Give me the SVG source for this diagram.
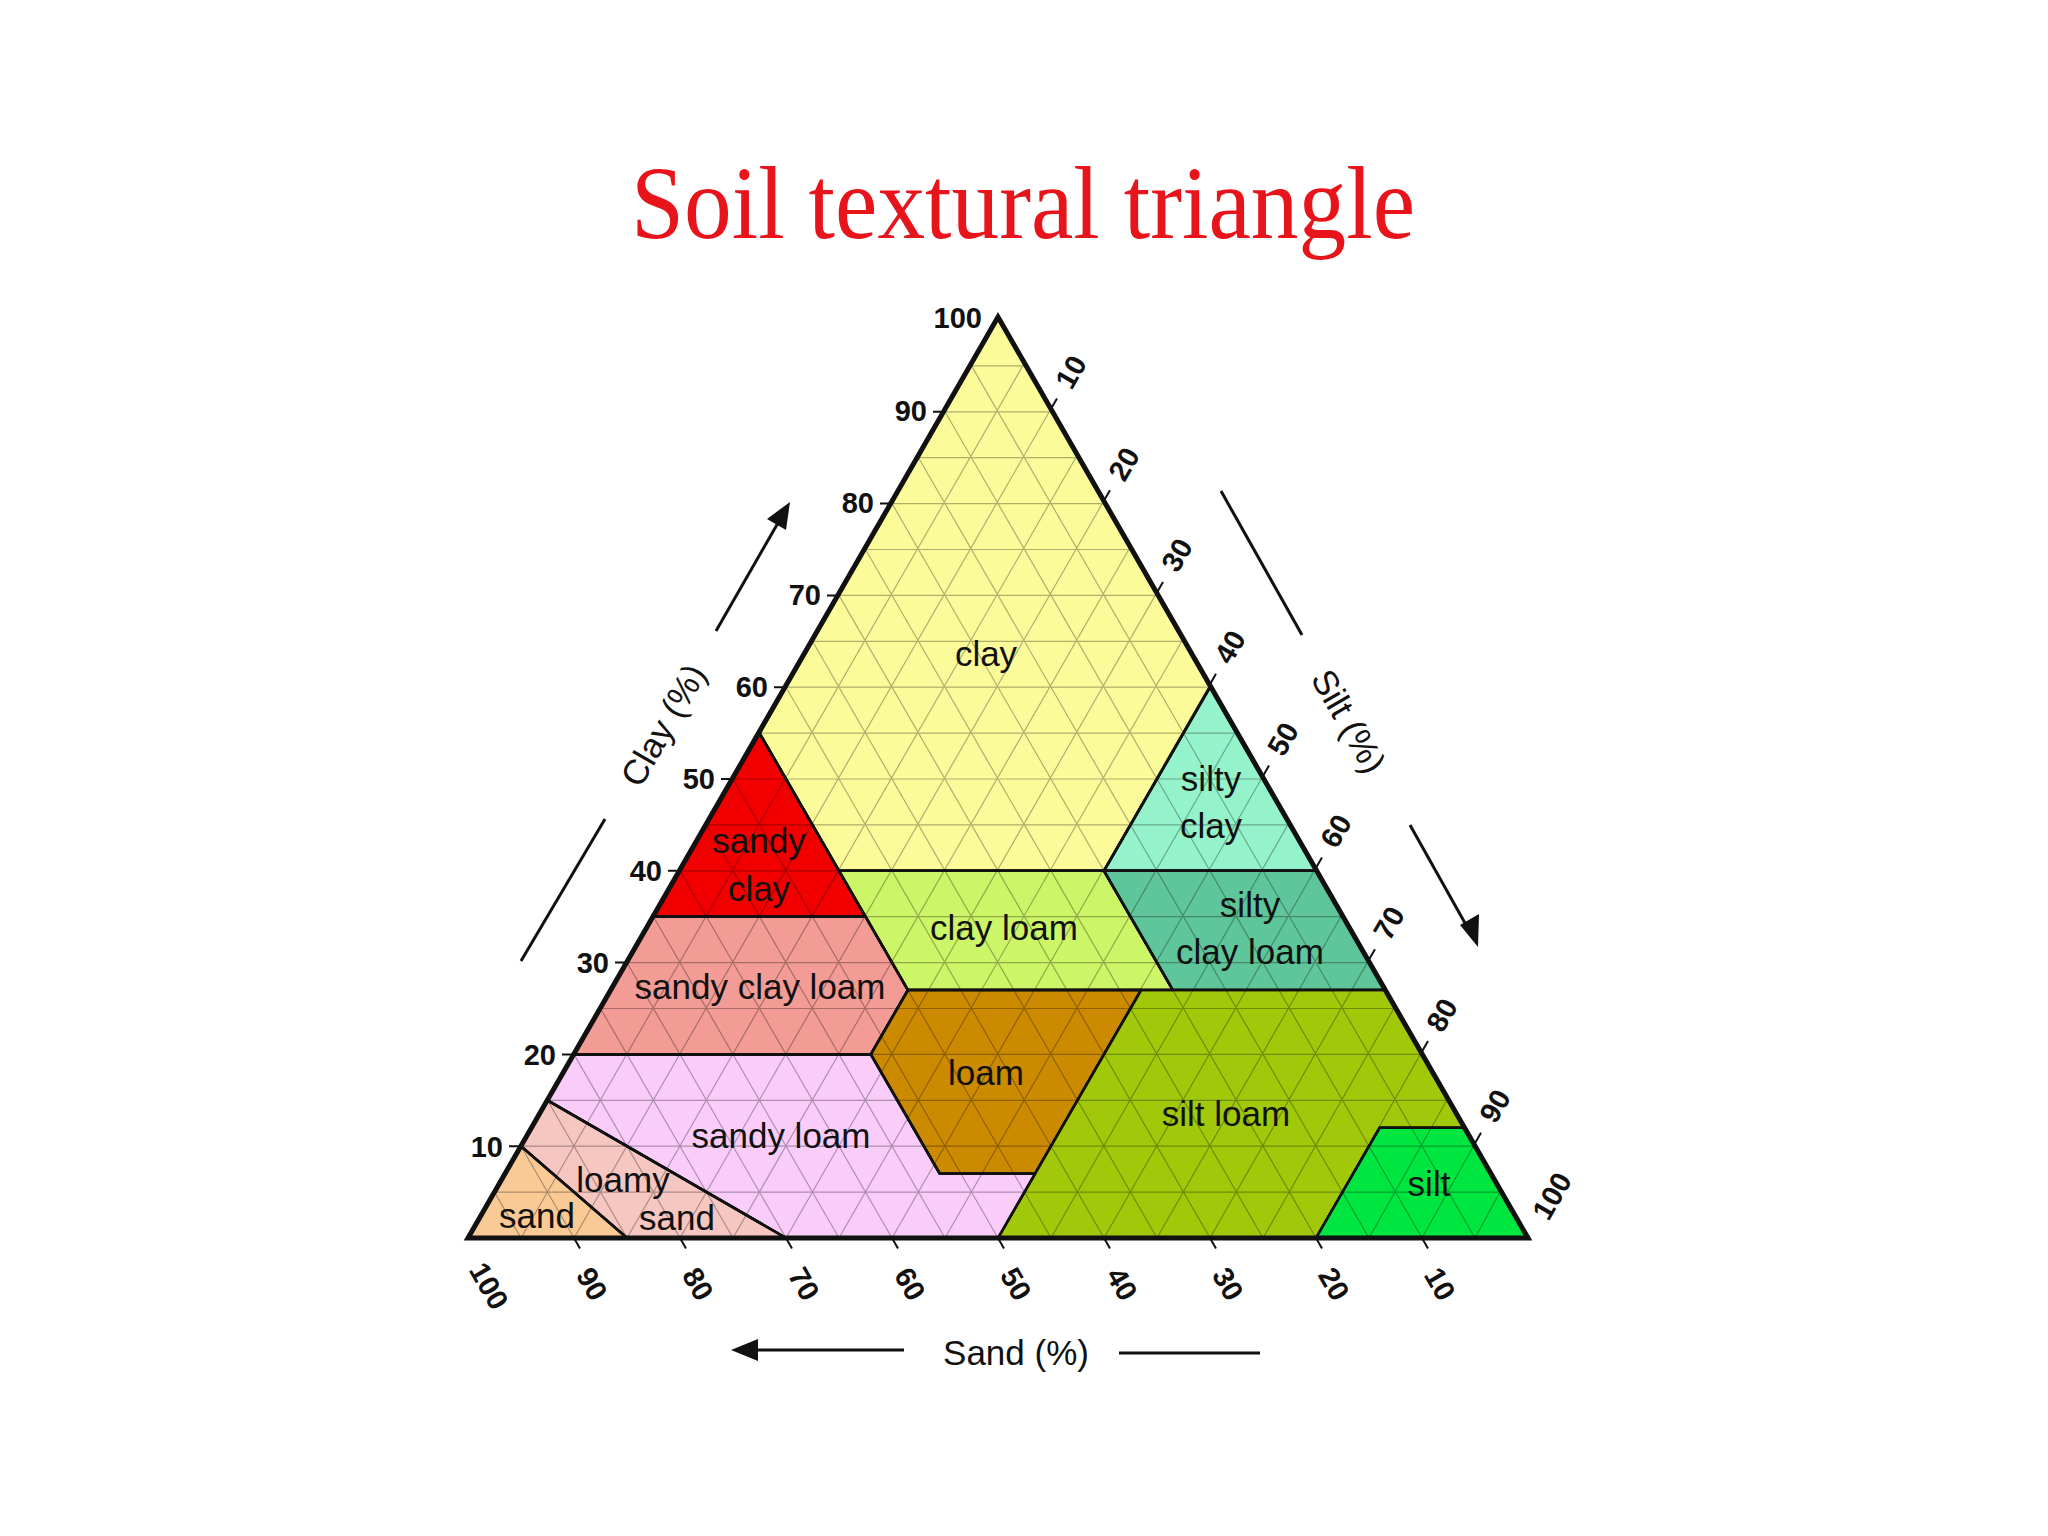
<svg xmlns="http://www.w3.org/2000/svg" width="2048" height="1536" viewBox="0 0 2048 1536">
<style>
.r{stroke:#111;stroke-width:2.5;stroke-linejoin:round}
.lb{font-family:"Liberation Sans",Arial,sans-serif;font-size:35px;fill:#111;text-anchor:middle;dominant-baseline:central}
.tk{font-family:"Liberation Sans",Arial,sans-serif;font-size:29px;font-weight:bold;fill:#111;dominant-baseline:central}
.ax{font-family:"Liberation Sans",Arial,sans-serif;font-size:35px;fill:#111;text-anchor:middle;dominant-baseline:central}
.grid{stroke:#000;stroke-opacity:.3;stroke-width:1.2;fill:none}
.arr{stroke:#111;stroke-width:3;fill:none}
</style>
<defs>
<marker id="ah" viewBox="0 0 10 10" refX="9" refY="5" markerWidth="8" markerHeight="8" markerUnits="userSpaceOnUse" orient="auto" style="overflow:visible"><path d="M0,0 L10,5 L0,10 Z" fill="#111" transform="scale(3.2) translate(-7,-5) translate(0,5)"/></marker>
</defs>
<rect width="2048" height="1536" fill="#fff"/>
<text x="1023" y="238" font-family="'Liberation Serif',serif" font-size="104" fill="#e8141b" text-anchor="middle" textLength="784" lengthAdjust="spacingAndGlyphs">Soil textural triangle</text>

<g id="regions">
<polygon id="clay" class="r" fill="#fbfb9a" points="759.5,733.1 998,317 1210,687.2 1104,870.8 839,870.8"/>
<polygon id="sandy-clay" class="r" fill="#f20000" points="653.5,916.7 759.5,733.1 839,870.8 865.5,916.7"/>
<polygon id="silty-clay" class="r" fill="#94f3cb" points="1210,687.2 1316,870.8 1104,870.8"/>
<polygon id="clay-loam" class="r" fill="#ccf567" points="839,870.8 1104,870.8 1172.9,990.1 907.9,990.1 865.5,916.7"/>
<polygon id="silty-clay-loam" class="r" fill="#5ec69a" points="1104,870.8 1316,870.8 1384.9,990.1 1172.9,990.1"/>
<polygon id="sandy-clay-loam" class="r" fill="#f39b95" points="574,1054.4 653.5,916.7 865.5,916.7 907.9,990.1 870.8,1054.4"/>
<polygon id="loam" class="r" fill="#cc8a00" points="907.9,990.1 1141.1,990.1 1035.1,1173.7 939.7,1173.7 870.8,1054.4"/>
<polygon id="silt-loam" class="r" fill="#a2c80a" points="998,1238 1035.1,1173.7 1141.1,990.1 1384.9,990.1 1464.4,1127.8 1379.6,1127.8 1316,1238"/>
<polygon id="silt" class="r" fill="#00e640" points="1316,1238 1379.6,1127.8 1464.4,1127.8 1528,1238"/>
<polygon id="sandy-loam" class="r" fill="#f9ccf9" points="547.5,1100.3 574,1054.4 870.8,1054.4 939.7,1173.7 1035.1,1173.7 998,1238 786,1238"/>
<polygon id="loamy-sand" class="r" fill="#f6c6c0" points="521,1146.2 547.5,1100.3 786,1238 627,1238"/>
<polygon id="sand" class="r" fill="#f9c996" points="468,1238 521,1146.2 627,1238"/>
</g>

<path class="grid" d="M494.5,1192.1H1501.5M521,1146.2H1475M547.5,1100.3H1448.5M574,1054.4H1422M600.5,1008.5H1395.5M627,962.6H1369M653.5,916.7H1342.5M680,870.8H1316M706.5,824.9H1289.5M733,779H1263M759.5,733.1H1236.5M786,687.2H1210M812.5,641.3H1183.5M839,595.4H1157M865.5,549.5H1130.5M892,503.6H1104M918.5,457.7H1077.5M945,411.8H1051M971.5,365.9H1024.5
M521,1238L1024.5,362.9M574,1238L1051,408.8M627,1238L1077.5,454.7M680,1238L1104,500.6M733,1238L1130.5,546.5M786,1238L1157,592.4M839,1238L1183.5,638.3M892,1238L1210,684.2M945,1238L1236.5,730.1M998,1238L1263,776M1051,1238L1289.5,821.9M1104,1238L1316,867.8M1157,1238L1342.5,913.7M1210,1238L1369,959.6M1263,1238L1395.5,1005.5M1316,1238L1422,1051.4M1369,1238L1448.5,1097.3M1422,1238L1475,1143.2M1475,1238L1501.5,1189.1
M521,1238L494.5,1192.1M574,1238L521,1146.2M627,1238L547.5,1100.3M680,1238L574,1054.4M733,1238L600.5,1008.5M786,1238L627,962.6M839,1238L653.5,916.7M892,1238L680,870.8M945,1238L706.5,824.9M998,1238L733,779M1051,1238L759.5,733.1M1104,1238L786,687.2M1157,1238L812.5,641.3M1210,1238L839,595.4M1263,1238L865.5,549.5M1316,1238L892,503.6M1369,1238L918.5,457.7M1422,1238L945,411.8M1475,1238L971.5,365.9"/>

<g id="borders" fill="none" class="r">
<polygon points="759.5,733.1 998,317 1210,687.2 1104,870.8 839,870.8"/>
<polygon points="653.5,916.7 759.5,733.1 839,870.8 865.5,916.7"/>
<polygon points="1210,687.2 1316,870.8 1104,870.8"/>
<polygon points="839,870.8 1104,870.8 1172.9,990.1 907.9,990.1 865.5,916.7"/>
<polygon points="1104,870.8 1316,870.8 1384.9,990.1 1172.9,990.1"/>
<polygon points="574,1054.4 653.5,916.7 865.5,916.7 907.9,990.1 870.8,1054.4"/>
<polygon points="907.9,990.1 1141.1,990.1 1035.1,1173.7 939.7,1173.7 870.8,1054.4"/>
<polygon points="1316,1238 1379.6,1127.8 1464.4,1127.8 1528,1238"/>
<polygon points="547.5,1100.3 574,1054.4 870.8,1054.4 939.7,1173.7 1035.1,1173.7 998,1238 786,1238"/>
<polygon points="521,1146.2 547.5,1100.3 786,1238 627,1238"/>
</g>
<polygon id="outline" points="998,317 1528,1238 468,1238" fill="none" stroke="#111" stroke-width="5" stroke-linejoin="miter"/>

<g id="labels">
<text class="lb" x="986" y="653">clay</text>
<text class="lb" x="1211" y="778">silty</text><text class="lb" x="1211" y="825">clay</text>
<text class="lb" x="759" y="840">sandy</text><text class="lb" x="759" y="888">clay</text>
<text class="lb" x="1250" y="904">silty</text><text class="lb" x="1250" y="951">clay loam</text>
<text class="lb" x="1004" y="927">clay loam</text>
<text class="lb" x="760" y="986">sandy clay loam</text>
<text class="lb" x="986" y="1072">loam</text>
<text class="lb" x="1226" y="1113">silt loam</text>
<text class="lb" x="781" y="1135">sandy loam</text>
<text class="lb" x="1429" y="1183">silt</text>
<text class="lb" x="623" y="1179">loamy</text>
<text class="lb" x="537" y="1215">sand</text>
<text class="lb" x="677" y="1217">sand</text>
</g>

<g id="ticks" stroke="#111" stroke-width="2">
<path d="M509,1146.2h12M562,1054.4h12M615,962.6h12M668,870.8h12M721,779h12M774,687.2h12M827,595.4h12M880,503.6h12M933,411.8h12"/>
<path d="M1051,408.8l6,-10.4M1104,500.6l6,-10.4M1157,592.4l6,-10.4M1210,684.2l6,-10.4M1263,776l6,-10.4M1316,867.8l6,-10.4M1369,959.6l6,-10.4M1422,1051.4l6,-10.4M1475,1143.2l6,-10.4"/>
<path d="M574,1238l6,10.4M680,1238l6,10.4M786,1238l6,10.4M892,1238l6,10.4M998,1238l6,10.4M1104,1238l6,10.4M1210,1238l6,10.4M1316,1238l6,10.4M1422,1238l6,10.4"/>
</g>
<g id="clay-ticks" text-anchor="end">
<text class="tk" x="503" y="1147">10</text>
<text class="tk" x="556" y="1055">20</text>
<text class="tk" x="609" y="963">30</text>
<text class="tk" x="662" y="871">40</text>
<text class="tk" x="715" y="779">50</text>
<text class="tk" x="768" y="687">60</text>
<text class="tk" x="821" y="595">70</text>
<text class="tk" x="874" y="503">80</text>
<text class="tk" x="927" y="411">90</text>
<text class="tk" x="982" y="318">100</text>
</g>
<g id="silt-ticks" text-anchor="middle">
<text class="tk" transform="translate(1071,372) rotate(-60)">10</text>
<text class="tk" transform="translate(1124,464) rotate(-60)">20</text>
<text class="tk" transform="translate(1177,555) rotate(-60)">30</text>
<text class="tk" transform="translate(1230,647) rotate(-60)">40</text>
<text class="tk" transform="translate(1283,739) rotate(-60)">50</text>
<text class="tk" transform="translate(1336,831) rotate(-60)">60</text>
<text class="tk" transform="translate(1389,923) rotate(-60)">70</text>
<text class="tk" transform="translate(1442,1015) rotate(-60)">80</text>
<text class="tk" transform="translate(1495,1106) rotate(-60)">90</text>
<text class="tk" transform="translate(1552,1196) rotate(-60)">100</text>
</g>
<g id="sand-ticks" text-anchor="middle">
<text class="tk" transform="translate(489,1286) rotate(60)">100</text>
<text class="tk" transform="translate(592,1284) rotate(60)">90</text>
<text class="tk" transform="translate(698,1284) rotate(60)">80</text>
<text class="tk" transform="translate(804,1284) rotate(60)">70</text>
<text class="tk" transform="translate(910,1284) rotate(60)">60</text>
<text class="tk" transform="translate(1016,1284) rotate(60)">50</text>
<text class="tk" transform="translate(1122,1284) rotate(60)">40</text>
<text class="tk" transform="translate(1228,1284) rotate(60)">30</text>
<text class="tk" transform="translate(1334,1284) rotate(60)">20</text>
<text class="tk" transform="translate(1440,1284) rotate(60)">10</text>
</g>

<g id="axes">
<text class="ax" transform="translate(663,725) rotate(-60)">Clay (%)</text>
<text class="ax" transform="translate(1349,721) rotate(60)">Silt (%)</text>
<text class="ax" x="1016" y="1352">Sand (%)</text>
</g>
<g id="connectors">
<line class="arr" x1="716" y1="631" x2="786" y2="509"/>
<polygon points="790,502 786,530 767,519" fill="#111"/>
<line class="arr" x1="605" y1="819" x2="521" y2="961"/>
<line class="arr" x1="1221" y1="491" x2="1302" y2="635"/>
<line class="arr" x1="1410" y1="825" x2="1470" y2="932"/>
<polygon points="1478,947 1460,925 1479,914" fill="#111"/>
<line class="arr" x1="904" y1="1350" x2="750" y2="1350"/>
<polygon points="731,1350 758,1339 758,1361" fill="#111"/>
<line class="arr" x1="1119" y1="1353" x2="1260" y2="1353"/>
</g>
</svg>
